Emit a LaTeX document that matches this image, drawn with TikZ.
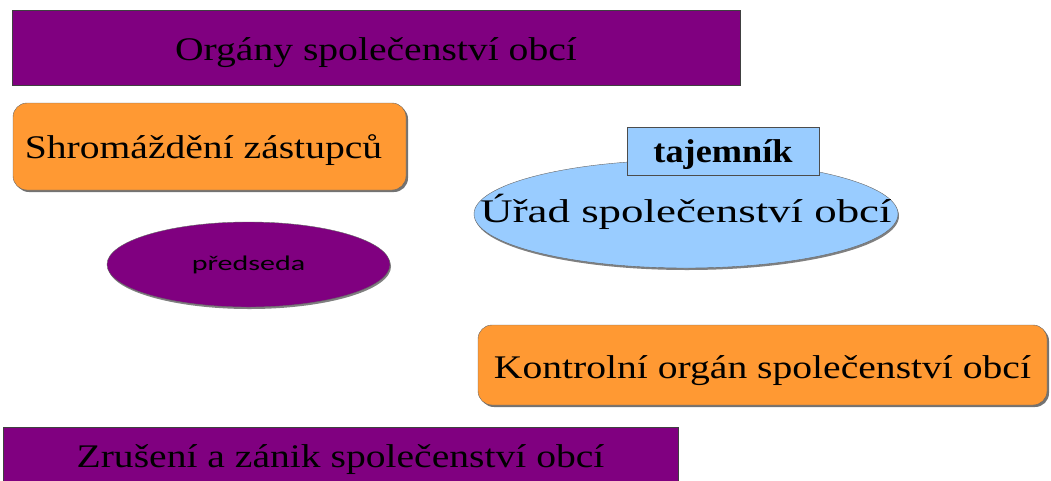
\documentclass[tikz,border=0pt]{standalone}
\usepackage{fontspec}
\setmainfont{Liberation Serif}
\newfontfamily\siroky[FakeStretch=1.2]{Liberation Serif}
\newfontfamily\sirsi[FakeStretch=1.36]{Liberation Serif}
\newfontfamily\tucny[FakeStretch=1.1]{Liberation Serif Bold}
\newfontfamily\predfont[FakeStretch=1.43]{Carlito}
\usetikzlibrary{shapes.geometric,shadows}

\definecolor{fialova}{HTML}{800080}
\definecolor{oranzova}{HTML}{FF9933}
\definecolor{modra}{HTML}{99CCFF}

\tikzset{
  stin/.style={drop shadow={shadow xshift=2pt, shadow yshift=-2pt, fill=black!55, opacity=1}},
  pruh/.style={rectangle, fill=fialova, draw=black!75, thin, inner sep=0pt, text depth=0pt},
  blok/.style={rectangle, rounded corners=14pt, fill=oranzova, draw=black!60, thin,
    inner sep=0pt, text depth=0pt, stin},
  kulat/.style={ellipse, draw=black!60, thin, inner sep=0pt, text depth=0pt,
    drop shadow={shadow xshift=1pt, shadow yshift=-2pt, fill=black!50, opacity=1}},
  velky/.style={font=\siroky\fontsize{33}{38}\selectfont}
}

\begin{document}
\begin{tikzpicture}[x=1pt,y=-1pt]
  \useasboundingbox (0,0) rectangle (1051,480);

  \node[pruh, velky, minimum width=728pt, minimum height=75pt, text height=25pt] (organy) at (376,47.5) {Orgány společenství obcí};
  \node[blok, velky, minimum width=393pt, minimum height=87pt, text height=23pt] (shromazdeni) at (209.5,146.5) {\makebox[0pt]{\hspace*{-12pt}Shromáždění zástupců}};
  \node[kulat, fill=fialova, minimum width=283pt, minimum height=85pt, text height=11pt,
        font=\predfont\fontsize{21}{25}\selectfont] (predseda) at (248.5,264.5) {předseda};
  \node[kulat, fill=modra, minimum width=424pt, minimum height=108pt, text height=16pt,
        font=\sirsi\fontsize{33}{38}\selectfont] (urad) at (686,214) {\makebox[0pt]{Úřad společenství obcí}};
  \node[rectangle, fill=modra, draw=black!70, line width=1pt, inner sep=0pt, text depth=0pt, text height=22pt,
        font=\tucny\fontsize{33}{38}\selectfont, minimum width=192pt, minimum height=48pt] (tajemnik) at (723,151) {tajemník};
  \node[blok, velky, minimum width=569pt, minimum height=80pt, text height=26pt] (kontrolni) at (762.5,365) {Kontrolní orgán společenství obcí};
  \node[pruh, velky, minimum width=675pt, minimum height=63pt, text height=17pt] (zruseni) at (340.5,458.5) {Zrušení a zánik společenství obcí};
\end{tikzpicture}
\end{document}
